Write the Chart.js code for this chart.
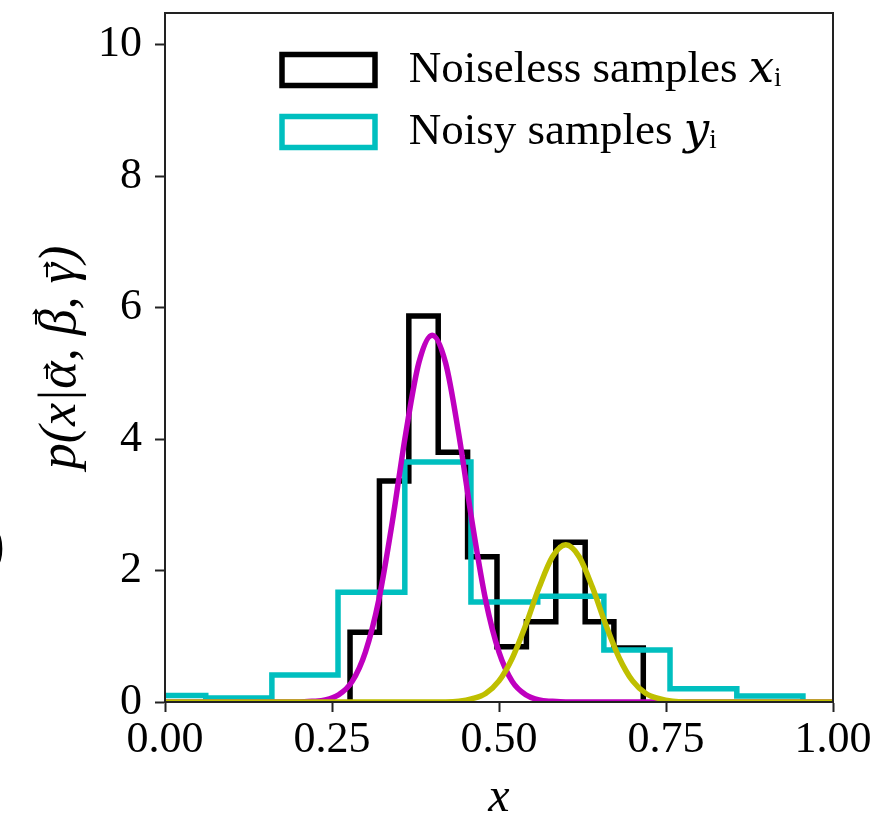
<!DOCTYPE html>
<html>
<head>
<meta charset="utf-8">
<script src="https://cdn.jsdelivr.net/npm/chart.js@4.4.0/dist/chart.umd.min.js"></script>
<style>
html,body{margin:0;padding:0;background:#fff;}
#wrap{width:892px;height:816px;position:relative;}
</style>
</head>
<body>
<div id="wrap"><canvas id="c" width="892" height="816"></canvas></div>
<script>
// ---- data ----
const noiselessEdges   = [0.277, 0.321, 0.365, 0.409, 0.453, 0.497, 0.541, 0.585, 0.629, 0.672, 0.716];
const noiselessHeights = [1.06, 3.36, 5.87, 3.80, 2.21, 0.84, 1.22, 2.43, 1.22, 0.82];

const noisyEdges   = [-0.039, 0.061, 0.160, 0.259, 0.359, 0.458, 0.558, 0.657, 0.756, 0.856, 0.955];
const noisyHeights = [0.10, 0.06, 0.41, 1.67, 3.65, 1.52, 1.61, 0.79, 0.20, 0.09];

const fitAX = [0.00, 0.18, 0.20, 0.22, 0.24, 0.26, 0.28, 0.30, 0.32, 0.34, 0.36, 0.38, 0.40, 0.42, 0.44, 0.46, 0.48, 0.50, 0.52, 0.54, 0.56, 0.58, 0.60, 0.62, 1.00];
const fitAY = [0.00, 0.00, 0.00, 0.01, 0.03, 0.11, 0.31, 0.76, 1.55, 2.72, 4.06, 5.16, 5.58, 5.16, 4.06, 2.72, 1.55, 0.76, 0.31, 0.11, 0.03, 0.01, 0.00, 0.00, 0.00];

const fitBX = [0.00, 0.40, 0.42, 0.44, 0.46, 0.48, 0.50, 0.52, 0.54, 0.56, 0.58, 0.60, 0.62, 0.64, 0.66, 0.68, 0.70, 0.72, 0.74, 0.76, 0.78, 0.80, 1.00];
const fitBY = [0.00, 0.00, 0.00, 0.01, 0.05, 0.13, 0.32, 0.67, 1.17, 1.74, 2.21, 2.39, 2.21, 1.74, 1.17, 0.67, 0.32, 0.13, 0.05, 0.01, 0.00, 0.00, 0.00];

const xTicks = [0, 0.25, 0.5, 0.75, 1.0];
const xTickLabels = ['0.00', '0.25', '0.50', '0.75', '1.00'];
const yTicks = [0, 2, 4, 6, 8, 10];
const yTickLabels = ['0', '2', '4', '6', '8', '10'];
const seriesLabels = ['Noiseless samples 𝑥ᵢ', 'Noisy samples 𝑦ᵢ', 'component 1', 'component 2'];
const xTitle = 'x';
const yTitle = 'p(x|α, β, γ)';
const vectorSymbols = ['α', 'β', 'γ'];

// ---- helpers ----
function stepPoints(edges, heights) {
  const pts = [{x: edges[0], y: 0}];
  heights.forEach((h, i) => pts.push({x: edges[i], y: h}));
  pts.push({x: edges[edges.length - 1], y: 0});
  return pts;
}
function curvePoints(xs, ys) { return xs.map((x, i) => ({x: x, y: ys[i]})); }

const FONT = "'Liberation Serif', 'DejaVu Serif', serif";
const Y_TITLE_SIZE = 52, Y_TITLE_PAD = 35, Y_TITLE_LH = 1;
const LW = 5.5;

const framePlugin = {
  id: 'frame',
  afterDatasetsDraw(chart) {
    const a = chart.chartArea, ctx = chart.ctx;
    ctx.save();
    ctx.strokeStyle = '#222';
    ctx.lineWidth = 2;
    ctx.strokeRect(a.left, a.top, a.right - a.left, a.bottom - a.top);
    ctx.restore();
  },
  afterDraw(chart) {
    const ctx = chart.ctx;
    // stray parenthesis cut at the left border of the reference
    ctx.save();
    ctx.fillStyle = '#000';
    ctx.font = "60px " + FONT;
    ctx.textAlign = 'right';
    ctx.textBaseline = 'middle';
    ctx.fillText(')', 5, 547);
    ctx.restore();

    // vector arrows above the greek letters of the y-axis title
    const s = chart.scales.y;
    const cx = s.left + Y_TITLE_SIZE * Y_TITLE_LH / 2 + Y_TITLE_PAD;
    const cy = (s.top + s.bottom) / 2;
    ctx.save();
    ctx.translate(cx, cy);
    ctx.rotate(-Math.PI / 2);
    ctx.font = 'italic ' + Y_TITLE_SIZE + 'px ' + FONT;
    const W = ctx.measureText(yTitle).width;
    ctx.strokeStyle = '#000';
    ctx.fillStyle = '#000';
    ctx.lineWidth = 2;
    vectorSymbols.forEach(sym => {
      const k = yTitle.indexOf(sym);
      const pre = ctx.measureText(yTitle.slice(0, k)).width;
      const cw = ctx.measureText(sym).width;
      const tall = sym === 'β';
      const xc = -W / 2 + pre + cw / 2 + (tall ? 5 : 3);
      const yc = tall ? -25 : -14;
      ctx.beginPath();
      ctx.moveTo(xc - 7, yc);
      ctx.lineTo(xc + 5, yc);
      ctx.stroke();
      ctx.beginPath();
      ctx.moveTo(xc + 9, yc);
      ctx.lineTo(xc + 3, yc - 4);
      ctx.lineTo(xc + 4, yc);
      ctx.lineTo(xc + 3, yc + 4);
      ctx.closePath();
      ctx.fill();
    });
    ctx.restore();
  }
};

const legendPos = {
  id: 'legendPos',
  afterLayout(chart) {
    const lg = chart.legend;
    if (!lg) return;
    const w = lg.width, h = lg.height;
    lg.left = 265; lg.top = 30.5;
    lg.right = lg.left + w; lg.bottom = lg.top + h;
  }
};

new Chart(document.getElementById('c'), {
  type: 'line',
  data: {
    datasets: [
      {label: seriesLabels[0], data: stepPoints(noiselessEdges, noiselessHeights), borderColor: '#000000', backgroundColor: 'rgba(255,255,255,0)', borderWidth: LW, stepped: true, pointRadius: 0, fill: false, order: 4, borderJoinStyle: 'miter', borderCapStyle: 'butt'},
      {label: seriesLabels[1], data: stepPoints(noisyEdges, noisyHeights), borderColor: '#00bfbf', backgroundColor: 'rgba(255,255,255,0)', borderWidth: LW, stepped: true, pointRadius: 0, fill: false, order: 3, borderJoinStyle: 'miter', borderCapStyle: 'butt'},
      {label: seriesLabels[2], data: curvePoints(fitAX, fitAY), borderColor: '#bf00bf', backgroundColor: '#bf00bf', borderWidth: LW, cubicInterpolationMode: 'monotone', pointRadius: 0, fill: false, order: 2},
      {label: seriesLabels[3], data: curvePoints(fitBX, fitBY), borderColor: '#bfbf00', backgroundColor: '#bfbf00', borderWidth: LW, cubicInterpolationMode: 'monotone', pointRadius: 0, fill: false, order: 1}
    ]
  },
  options: {
    responsive: false,
    animation: false,
    devicePixelRatio: 1,
    layout: {padding: {left: 0, right: 59, top: 13, bottom: 0}},
    plugins: {
      tooltip: {enabled: false},
      legend: {
        position: 'chartArea',
        align: 'start',
        labels: {
          boxWidth: 93, boxHeight: 31, padding: 17, color: '#000',
          font: {family: FONT, size: 45},
          filter: (item) => item.datasetIndex < 2,
          sort: (a, b) => a.datasetIndex - b.datasetIndex,
          generateLabels(chart) {
            const items = Chart.defaults.plugins.legend.labels.generateLabels(chart);
            items.forEach(it => { it.text = ' ' + it.text; });
            return items;
          }
        }
      }
    },
    scales: {
      x: {
        type: 'linear', min: 0, max: 1,
        afterFit(s) { s.height = 114; s.paddingLeft = 0; s.paddingRight = 0; },
        afterBuildTicks(s) { s.ticks = xTicks.map(v => ({value: v})); },
        ticks: {
          color: '#000', padding: 2, maxRotation: 0, autoSkip: false,
          font: {family: FONT, size: 44},
          callback: (v) => xTickLabels[xTicks.indexOf(v)]
        },
        grid: {drawOnChartArea: false, drawTicks: true, tickLength: 10, tickWidth: 2, tickColor: '#222', color: '#222'},
        border: {display: true, color: '#222', width: 2},
        title: {display: true, text: xTitle, color: '#000', font: {family: FONT, size: 48, style: 'italic', lineHeight: 0.75}, padding: {top: 0, bottom: 0}}
      },
      y: {
        type: 'linear', min: 0, max: 10.48,
        afterFit(s) { s.width = 165; s.paddingTop = 0; s.paddingBottom = 0; },
        afterBuildTicks(s) { s.ticks = yTicks.map(v => ({value: v})); },
        ticks: {
          color: '#000', padding: 13,
          font: {family: FONT, size: 44},
          callback: (v) => yTickLabels[yTicks.indexOf(v)]
        },
        grid: {drawOnChartArea: false, drawTicks: true, tickLength: 10, tickWidth: 2, tickColor: '#222', color: '#222'},
        border: {display: true, color: '#222', width: 2},
        title: {display: true, text: yTitle, color: '#000', font: {family: FONT, size: Y_TITLE_SIZE, style: 'italic', lineHeight: Y_TITLE_LH}, padding: {top: Y_TITLE_PAD, bottom: 0}}
      }
    }
  },
  plugins: [framePlugin, legendPos]
});
</script>
</body>
</html>
